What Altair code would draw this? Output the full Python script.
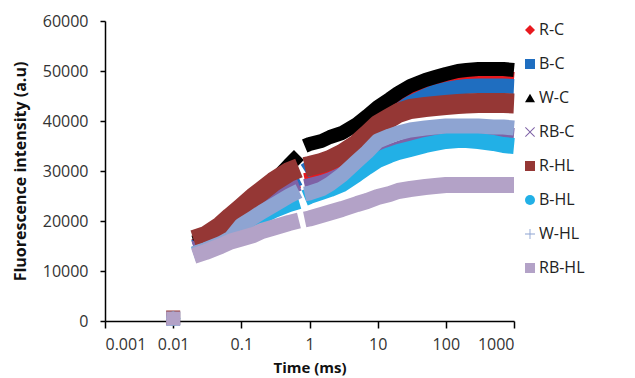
import altair as alt
import pandas as pd

# time points (ms)
times = [0.01, 0.02, 0.03, 0.05, 0.07, 0.1, 0.15, 0.2, 0.3, 0.5, 0.7, 0.85, 1, 1.5, 2, 3, 5, 7,
         10, 15, 20, 30, 50, 70, 100, 150, 200, 300, 500, 700, 1000]

r_c = [500, 15000, 15800, 17600, 19200, 21200, 23000, 24400, 25800, 27400, 28000, 28200, 28400,
       28600, 29000, 30400, 32800, 35200, 38800, 41500, 43000, 45000, 46500, 47300, 47800, 48200,
       48400, 48600, 48600, 48600, 48400]
b_c = [500, 14800, 15600, 17400, 19000, 21000, 22800, 24200, 25800, 27600, 28600, 30000, 30600,
       31400, 32200, 33400, 35400, 37000, 38800, 40600, 42000, 43600, 45000, 45800, 46300, 46700,
       46900, 47000, 47000, 47000, 46900]
w_c = [500, 15700, 16500, 18500, 20200, 22100, 24100, 25500, 28000, 31200, 33200, 35000, 35400,
       36000, 36800, 37600, 39400, 41000, 42800, 44400, 45600, 47000, 48200, 48800, 49400, 50000,
       50200, 50400, 50400, 50400, 50200]
rb_c = [500, 14600, 15400, 17000, 18400, 20400, 22000, 23400, 25000, 26600, 27400, 27000, 27200,
        27800, 28400, 29500, 31000, 32000, 33000, 34000, 34600, 35400, 36000, 36400, 36800, 37200,
        37400, 37600, 37600, 37400, 37200]
r_hl = [700, 16200, 17000, 19000, 20800, 22600, 24700, 26000, 27900, 29800, 30600, 30800, 31000,
        31600, 32200, 33400, 35400, 37200, 39200, 40600, 41600, 42400, 42800, 43000, 43200, 43400,
        43500, 43600, 43600, 43600, 43500]
b_hl = [500, 13300, 14100, 15200, 16300, 18400, 19800, 21000, 22200, 23400, 24000, 24600, 25000,
        25800, 26400, 27400, 29400, 30800, 32200, 33200, 33800, 34400, 35200, 35600, 36000, 36200,
        36200, 36000, 35600, 35200, 35000]
w_hl = [500, 13500, 14300, 15500, 16600, 19200, 20700, 21800, 23200, 25000, 26000, 25400, 25600,
        26400, 27400, 29200, 32000, 33800, 36000, 37000, 37600, 38200, 38600, 38800, 39000, 39000,
        39000, 39000, 38800, 38800, 38600]
rb_hl = [500, 13000, 13800, 15000, 15900, 16500, 17200, 18000, 18700, 19600, 20100, 20300, 20500,
         21200, 21700, 22400, 23400, 24000, 24800, 25400, 26000, 26400, 26800, 27000, 27200, 27200,
         27200, 27200, 27200, 27200, 27200]

series_names = ["R-C", "B-C", "W-C", "RB-C", "R-HL", "B-HL", "W-HL", "RB-HL"]
series_values = [r_c, b_c, w_c, rb_c, r_hl, b_hl, w_hl, rb_hl]
colors = ["#E8191E", "#1F6EC0", "#000000", "#7E62A6", "#953735", "#22B0E6", "#8EA4D2", "#B3A2C7"]
band_widths = [14, 15, 14, 14, 20, 16, 15, 16]
X_PATH = ("M-1,-0.86L-0.86,-1L0,-0.14L0.86,-1L1,-0.86L0.14,0L1,0.86L0.86,1L0,0.14"
          "L-0.86,1L-1,0.86L-0.14,0Z")
PLUS_PATH = ("M-1,-0.09L-0.09,-0.09L-0.09,-1L0.09,-1L0.09,-0.09L1,-0.09L1,0.09L0.09,0.09"
             "L0.09,1L-0.09,1L-0.09,0.09L-1,0.09Z")
shapes = ["diamond", "square", "triangle-up", X_PATH, "square", "circle", PLUS_PATH, "square"]

rows = []
for i, (name, vals) in enumerate(zip(series_names, series_values)):
    for t, v in zip(times, vals):
        rows.append({"series": name, "idx": i, "t": t, "v": v})
df = pd.DataFrame(rows)

FONT = "Open Sans"
color_scale = alt.Scale(domain=series_names, range=colors)
shape_scale = alt.Scale(domain=series_names, range=shapes)

xenc = alt.X("t:Q", scale=alt.Scale(type="log", domain=[0.001, 1000]),
             axis=alt.Axis(title="Time (ms)", values=[0.001, 0.01, 0.1, 1, 10, 100, 1000],
                           format="~g", tickSize=7, labelPadding=8, titlePadding=8,
                           titleFontSize=15))
yenc = alt.Y("v:Q", scale=alt.Scale(domain=[0, 60000]),
             axis=alt.Axis(title="Fluorescence intensity (a.u)",
                           values=list(range(0, 60001, 10000)), format="d",
                           tickSize=5, labelPadding=12, titlePadding=14))

legend = alt.Legend(orient="none", legendX=417, legendY=1, title=None, symbolSize=100,
                    labelFontSize=16, labelFont=FONT, labelColor="#222222", rowPadding=18,
                    labelOffset=1, symbolStrokeWidth=0)

base = alt.Chart(df)
layers = []
for name, bw in zip(series_names, band_widths):
    line = (base.transform_filter(f"datum.series == '{name}' && datum.t > 0.015")
            .transform_calculate(seg="datum.t < 0.8 ? 0 : 1")
            .mark_line(strokeWidth=bw, strokeCap="butt", strokeJoin="round")
            .encode(x=xenc, y=yenc,
                    color=alt.Color("series:N", scale=color_scale, legend=legend),
                    detail="seg:N", order="t:Q"))
    layers.append(line)

points = (base.transform_filter("datum.t < 0.015")
          .mark_point(filled=True, size=196, opacity=1)
          .encode(x=xenc, y=yenc,
                  color=alt.Color("series:N", scale=color_scale, legend=legend),
                  shape=alt.Shape("series:N", scale=shape_scale, legend=legend),
                  order=alt.Order("idx:Q")))
layers.append(points)

chart = (alt.layer(*layers)
         .properties(width=409, height=300, autosize="none", background="white",
                     padding={"left": 105, "top": 21, "right": 121, "bottom": 57})
         .configure_view(stroke=None)
         .configure_axis(grid=False, domainColor="#000000", domainWidth=1.5, tickColor="#000000",
                         tickWidth=1.5, labelFont=FONT, labelFontSize=16, labelColor="#333333",
                         titleFont=FONT, titleFontSize=16, titleFontWeight="bold",
                         titleColor="#111111"))

chart.save("out.html", embed_options={"renderer": "svg", "actions": False})
